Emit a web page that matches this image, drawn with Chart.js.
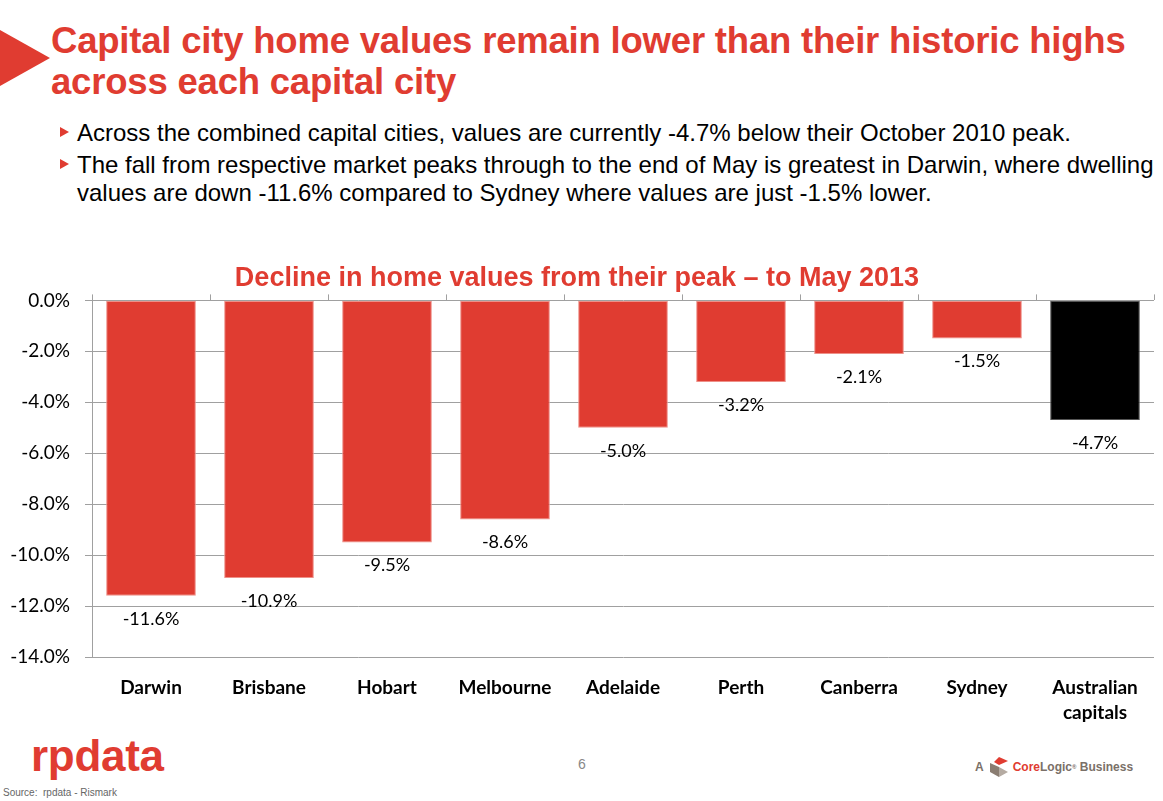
<!DOCTYPE html>
<html>
<head>
<meta charset="utf-8">
<script src="https://cdn.jsdelivr.net/npm/chart.js@4.4.1/dist/chart.umd.min.js"></script>
<style>
  body { margin: 0; background: #fff; width: 1163px; height: 801px; position: relative; overflow: hidden; font-family: "Liberation Sans", Arial, sans-serif; }
  .tri { position: absolute; left: 0; top: 30px; width: 0; height: 0; border-top: 28px solid transparent; border-bottom: 28px solid transparent; border-left: 50px solid #e03c31; }
  h1 { position: absolute; left: 51px; top: 20px; margin: 0; font-size: 36.5px; line-height: 41px; color: #e03c31; font-weight: bold; letter-spacing: -0.2px; white-space: nowrap; }
  ul { position: absolute; left: 58px; top: 119px; margin: 0; padding: 0; list-style: none; font-size: 24px; line-height: 28px; color: #000; width: 1120px; }
  ul li { position: relative; padding-left: 19px; margin-bottom: 4px; }
  ul li:before { content: ""; position: absolute; left: 2px; top: 8px; border-top: 5px solid transparent; border-bottom: 5px solid transparent; border-left: 9px solid #e03c31; }
  #wrap { position: absolute; left: 0; top: 254px; width: 1163px; height: 473px; }
  .logo { position: absolute; left: 31px; top: 731px; font-size: 44px; color: #e03c31; letter-spacing: -0.3px; font-weight: bold; }
  .src { position: absolute; left: 3px; top: 787px; font-size: 10px; color: #666; }
  .page { position: absolute; left: 578px; top: 756px; font-size: 14px; color: #888; }
  .cl { position: absolute; left: 975px; top: 756px; font-size: 12px; color: #7a7068; font-weight: bold; display: flex; align-items: center; }
  .cl svg { margin: 0 3px 0 4px; }
</style>
</head>
<body>
<div class="tri"></div>
<h1>Capital city home values remain lower than their historic highs<br>across each capital city</h1>
<ul>
  <li>Across the combined capital cities, values are currently -4.7% below their October 2010 peak.</li>
  <li>The fall from respective market peaks through to the end of May is greatest in Darwin, where dwelling values are down -11.6% compared to Sydney where values are just -1.5% lower.</li>
</ul>
<div id="wrap"><canvas id="chart"></canvas></div>
<div class="logo">rpdata</div>
<div class="src">Source:&nbsp; rpdata - Rismark</div>
<div class="page">6</div>
<div class="cl">A<svg width="22" height="22" viewBox="0 0 22 22"><polygon points="11,1 20,5 11,9 6,6" fill="#e03c31"/><polygon points="2,7 11,11 11,21 2,16" fill="#8a7d72"/><polygon points="11,11 20,16 11,21" fill="#b5aba2"/></svg><span style="color:#e03c31">Core</span>Logic<sup style="font-size:6px">®</sup>&nbsp;Business</div>

<script>
const cities = ['Darwin', 'Brisbane', 'Hobart', 'Melbourne', 'Adelaide', 'Perth', 'Canberra', 'Sydney', ['Australian', 'capitals']];
const declines = [-11.6, -10.9, -9.5, -8.6, -5.0, -3.2, -2.1, -1.5, -4.7];
const barColours = ['#e03c31', '#e03c31', '#e03c31', '#e03c31', '#e03c31', '#e03c31', '#e03c31', '#e03c31', '#000000'];
const chartTitle = 'Decline in home values from their peak \u2013 to May 2013';

// value labels under each bar end
const barLabels = {
    id: 'barLabels',
    afterDatasetsDraw(chart) {
        const ctx = chart.ctx;
        const meta = chart.getDatasetMeta(0);
        ctx.save();
        ctx.font = '18px Lato, "Open Sans", sans-serif';
        ctx.fillStyle = '#000';
        ctx.textAlign = 'center';
        ctx.textBaseline = 'middle';
        meta.data.forEach(function(bar, i) {
            ctx.fillText(declines[i].toFixed(1) + '%', bar.x, bar.y + 23);
        });
        ctx.restore();
    }
};

const chart = new Chart(document.getElementById('chart'), {
    type: 'bar',
    data: {
        labels: cities,
        datasets: [{
            data: declines,
            backgroundColor: barColours,
            borderColor: ['#ee9088', '#ee9088', '#ee9088', '#ee9088', '#ee9088', '#ee9088', '#ee9088', '#ee9088', '#555'],
            borderWidth: 1,
            borderSkipped: false,
            categoryPercentage: 1,
            barPercentage: 0.76
        }]
    },
    options: {
        responsive: true,
        maintainAspectRatio: false,
        animation: false,
        layout: { padding: { right: 9 } },
        plugins: {
            legend: { display: false },
            tooltip: { enabled: false },
            title: {
                display: true,
                text: chartTitle,
                color: '#e03c31',
                font: { family: '"Liberation Sans", Arial, sans-serif', size: 27, weight: 'bold', lineHeight: 1.2 },
                padding: { top: 8, bottom: 0 }
            }
        },
        scales: {
            x: {
                position: 'bottom',
                grid: { display: false },
                border: { display: false },
                ticks: {
                    color: '#000',
                    padding: 11,
                    maxRotation: 0,
                    autoSkip: false,
                    font: { family: 'Lato, "Open Sans", sans-serif', size: 19, weight: 'bold', lineHeight: 1.3 }
                },
                afterFit: function(scale) { scale.height = 70; }
            },
            xTop: {
                type: 'category',
                position: 'top',
                labels: cities,
                offset: true,
                grid: { offset: true, drawOnChartArea: false, tickLength: 6, color: '#a0a0a0' },
                border: { display: false },
                ticks: { display: false }
            },
            y: {
                min: -14,
                max: 0,
                grid: { color: '#a0a0a0', tickLength: 7 },
                border: { display: true, color: '#a0a0a0' },
                ticks: {
                    stepSize: 2,
                    padding: 15,
                    color: '#000',
                    font: { family: 'Lato, "Open Sans", sans-serif', size: 19 },
                    callback: function(v) { return v.toFixed(1) + '%'; }
                },
                afterFit: function(scale) { scale.width = 92; }
            }
        }
    },
    plugins: [barLabels]
});
</script>
</body>
</html>
